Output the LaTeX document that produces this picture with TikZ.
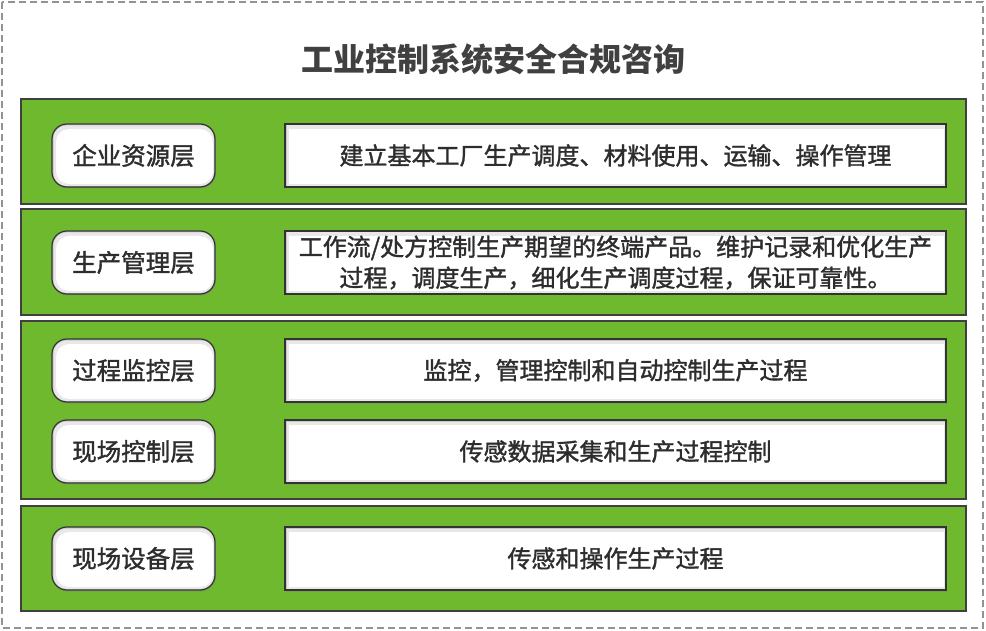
\documentclass[tikz,border=0pt]{standalone}
\usepackage{fontspec}
\setmainfont{Noto Sans CJK SC}
\newfontfamily\yahei{Noto Sans CJK SC}[FakeBold=1.4]
\usetikzlibrary{shadows}
\definecolor{bandgreen}{RGB}{111,185,46}
\definecolor{inkgray}{RGB}{45,45,45}
\definecolor{titlegray}{RGB}{64,64,64}
\begin{document}
\begin{tikzpicture}[x=1pt,y=-1pt,
    band/.style={draw=black!75,line width=1.2pt,fill=bandgreen},
    innerbevel/.style={path picture={
        \fill[black!22] (path picture bounding box.south west) rectangle (path picture bounding box.north east);
        \fill[black!9,rounded corners=#1] ([shift={(1.5pt,-1.5pt)}]path picture bounding box.north west) rectangle ([shift={(-1pt,1pt)}]path picture bounding box.south east);
        \fill[white,rounded corners=#1] ([shift={(4pt,-5pt)}]path picture bounding box.north west) rectangle ([shift={(-2pt,3pt)}]path picture bounding box.south east);}},
    layer/.style={draw=black!80,line width=1.2pt,fill=white,rounded corners=15pt,innerbevel=13pt,
        minimum width=163pt,minimum height=63pt,text=inkgray,font=\yahei\fontsize{24.5}{28}\selectfont,
        drop shadow={shadow xshift=1pt,shadow yshift=-1.5pt,opacity=.4}},
    desc/.style={draw=black!80,line width=1.2pt,fill=white,innerbevel=0pt,
        minimum width=661pt,minimum height=63pt,text=inkgray,align=center,
        font=\yahei\fontsize{24}{31}\selectfont,
        drop shadow={shadow xshift=1pt,shadow yshift=-1.5pt,opacity=.4}}]
\useasboundingbox (0,0) rectangle (986,631);
\draw[gray!85,line width=1.2pt,dash pattern=on 7pt off 4pt] (2,2) rectangle (983,628);
\node[text=titlegray,font=\fontsize{32}{36}\selectfont\bfseries] (title) at (493,59) {工业控制系统安全合规咨询};
% green bands
\draw[band] (21,99) rectangle (966,204);
\draw[band] (21,209) rectangle (966,315);
\draw[band] (21,321) rectangle (966,499);
\draw[band] (21,506) rectangle (966,611);
% layers and what they do
\node[layer] (erp) at (133.5,155.5) {企业资源层};
\node[desc] (erpdesc) at (615.5,155.5) {建立基本工厂生产调度、材料使用、运输、操作管理};
\node[layer] (mes) at (133.5,262.5) {生产管理层};
\node[desc] (mesdesc) at (615.5,262.5) {工作流/处方控制生产期望的终端产品。维护记录和优化生产\\过程，调度生产，细化生产调度过程，保证可靠性。};
\node[layer] (scada) at (133.5,370.5) {过程监控层};
\node[desc] (scadadesc) at (615.5,370.5) {监控，管理控制和自动控制生产过程};
\node[layer] (plc) at (133.5,451.5) {现场控制层};
\node[desc] (plcdesc) at (615.5,451.5) {传感数据采集和生产过程控制};
\node[layer] (dev) at (133.5,558.5) {现场设备层};
\node[desc] (devdesc) at (615.5,558.5) {传感和操作生产过程};
\end{tikzpicture}
\end{document}
